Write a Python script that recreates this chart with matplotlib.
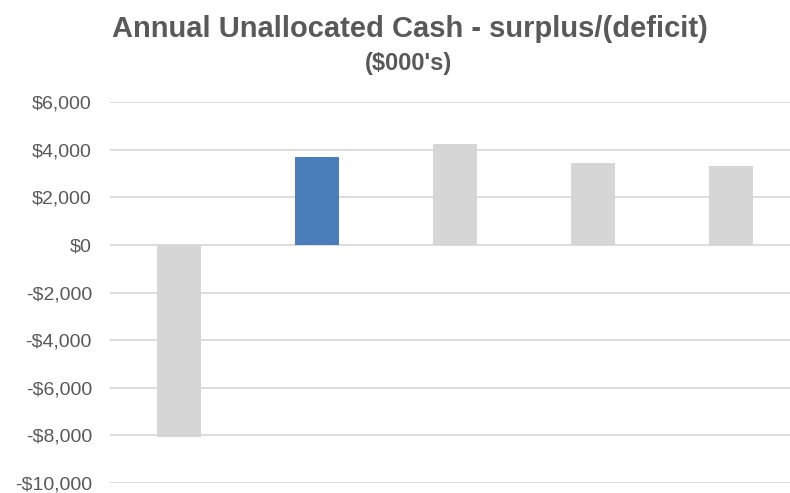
import matplotlib.pyplot as plt
import matplotlib.ticker as mticker

plt.rcParams['font.family'] = ['Liberation Sans', 'DejaVu Sans']

# bar values in $000's
periods = ['Y1', 'Y2', 'Y3', 'Y4', 'Y5']
cash = [-8050, 3700, 4250, 3450, 3300]
bar_colors = ['#d6d6d6', '#4a7ebb', '#d6d6d6', '#d6d6d6', '#d6d6d6']

fig = plt.figure(figsize=(7.9, 4.93), dpi=100)
ax = fig.add_axes([110 / 790, 10 / 493, 680 / 790, 381 / 493])

ax.bar(range(len(periods)), cash, width=0.32, color=bar_colors, zorder=3)

ax.set_ylim(-10000, 6000)
ax.set_xlim(-0.5, 4.43)
ax.yaxis.set_major_locator(mticker.MultipleLocator(2000))
ax.yaxis.set_major_formatter(mticker.FuncFormatter(
    lambda v, p: f"-${abs(v):,.0f}" if v < 0 else f"${v:,.0f}"))
ax.grid(axis='y', color='#d9d9d9', linewidth=1.3, zorder=0)
ax.set_xticks([])
ax.tick_params(axis='y', length=0, pad=13, labelsize=14, labelcolor='#595959')
for s in ax.spines.values():
    s.set_visible(False)

fig.text(410 / 790, 1 - 37 / 493, "Annual Unallocated Cash - surplus/(deficit)", ha='center', va='baseline',
         fontsize=21, fontweight='bold', color='#595959')
fig.text(409 / 790, 1 - 70 / 493, "($000's)", ha='center', va='baseline',
         fontsize=17, fontweight='bold', color='#595959')

fig.savefig('out.png', dpi=100)
